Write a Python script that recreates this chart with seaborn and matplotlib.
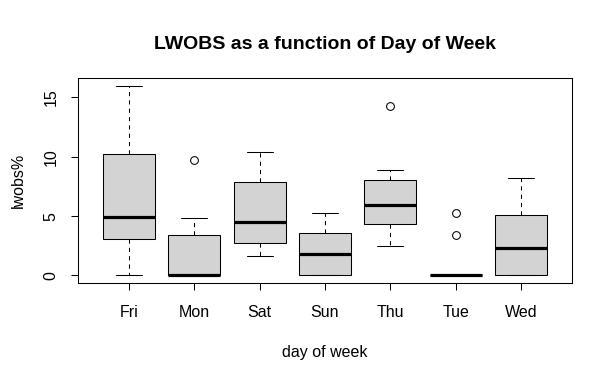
import matplotlib
matplotlib.use("Agg")
import matplotlib.pyplot as plt
import seaborn as sns
import pandas as pd

# lwobs% per day of week
days = ["Fri", "Mon", "Sat", "Sun", "Thu", "Tue", "Wed"]
fri = [0, 1.5, 3.05, 4.0, 4.9, 7.5, 10.2, 13.0, 16]
mon = [0, 0, 0, 0, 0, 1.5, 3.4, 4.8, 9.7]
sat = [1.6, 2.2, 2.7, 3.5, 4.5, 6.0, 7.9, 9.0, 10.4]
sun = [0, 0, 0, 1.0, 1.8, 2.5, 3.6, 4.5, 5.3]
thu = [2.5, 3.5, 4.35, 5.2, 5.95, 7.0, 8.05, 8.9, 14.3]
tue = [0, 0, 0, 0, 0, 0, 0, 3.4, 5.3]
wed = [0, 0, 0, 1.2, 2.3, 3.5, 5.05, 6.5, 8.2]

values = [fri, mon, sat, sun, thu, tue, wed]
df = pd.DataFrame({
    "day": [d for d, v in zip(days, values) for _ in v],
    "lwobs": [x for v in values for x in v],
})

sns.set_style("white")
plt.rcParams["font.family"] = ["Liberation Sans", "DejaVu Sans"]
plt.rcParams["text.color"] = "black"
plt.rcParams["axes.labelcolor"] = "black"
plt.rcParams["xtick.color"] = "black"
plt.rcParams["ytick.color"] = "black"

fig = plt.figure(figsize=(6.12, 3.80), dpi=100)
ax = fig.add_axes([0.1275, 0.2553, 0.8071, 0.5394])

lw = 0.75
fs = 11.5
sns.boxplot(data=df, x="day", y="lwobs", order=days, ax=ax,
            color="#d3d3d3", saturation=1, width=0.8,
            linecolor="black", linewidth=lw,
            medianprops=dict(color="black", linewidth=2.3),
            whiskerprops=dict(color="black", linewidth=lw, linestyle=(0, (4, 4))),
            capprops=dict(color="black", linewidth=lw),
            flierprops=dict(marker="o", markersize=5.6, markerfacecolor="none",
                            markeredgecolor="black", markeredgewidth=lw))

ax.set_xlim(-0.78, 6.78)
ax.set_ylim(-0.64, 16.64)
ax.set_yticks([0, 5, 10, 15])
ax.set_yticklabels(["0", "5", "10", "15"], rotation=90, va="center")
ax.tick_params(axis="both", direction="out", length=5, width=lw,
               color="black", labelcolor="black", labelsize=fs,
               left=True, bottom=True)
ax.tick_params(axis="y", pad=9)
ax.tick_params(axis="x", pad=11)

for s in ax.spines.values():
    s.set_color("black")
    s.set_linewidth(lw)

ax.set_xlabel("day of week", fontsize=fs, labelpad=18)
ax.set_ylabel("lwobs%", fontsize=fs, labelpad=13)
ax.set_title("LWOBS as a function of Day of Week", fontsize=14,
             fontweight="bold", pad=21, color="black")

fig.savefig("out.png", dpi=100)
